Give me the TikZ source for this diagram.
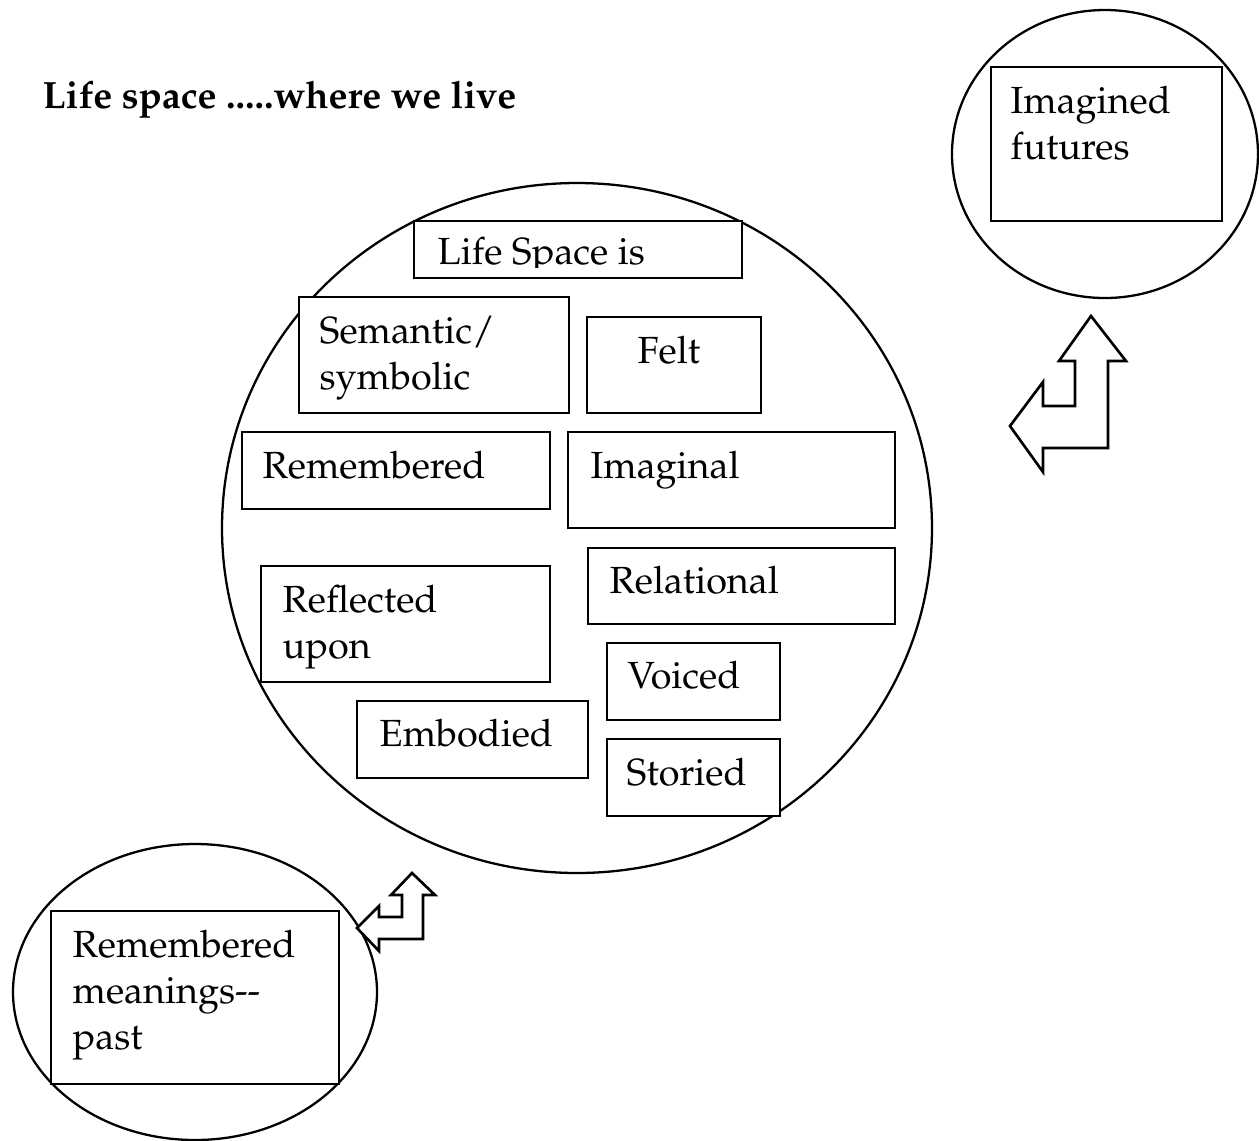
\documentclass[tikz,border=0pt]{standalone}
\usepackage[T1]{fontenc}
\renewcommand{\rmdefault}{ppl}
\usepackage{tikz}
\usetikzlibrary{calc}

\tikzset{
  boxline/.style={line width=0.75pt, fill=white},
  ringline/.style={line width=0.65pt},
  boxtext/.style={anchor=base west, inner sep=0pt, font=\fontsize{10.75}{13.2}\selectfont},
  headtext/.style={anchor=base west, inner sep=0pt, font=\bfseries\fontsize{10.8}{13.2}\selectfont},
  turnarrow/.style={line width=0.75pt, fill=white, line join=miter},
}

% box: name, left, top, right, bottom, text x, text y, text
\newcommand{\lsbox}[8]{%
  \draw[boxline] (#2,#3) rectangle (#4,#5);
  \node[boxtext] (#1) at (#6,#7) {\parbox[t]{6cm}{#8}};
}

\begin{document}
\begin{tikzpicture}[x=0.01cm, y=-0.01cm]
        \useasboundingbox (0,0) rectangle (1259,1141);

        \node[headtext] (title) at (42,108) {Life space .....where we live};

        % the three rings
        \coordinate (now) at (577,528);
        \coordinate (past) at (195,992);
        \coordinate (future) at (1105,154);
        \draw[ringline] (now) ellipse [x radius=355, y radius=345];
        \draw[ringline] (past) ellipse [x radius=182, y radius=148];
        \draw[ringline] (future) ellipse [x radius=153, y radius=144];

        % Life Space is -- text cut off at the foot of the box
        \draw[boxline] (414,221) rectangle (742,278);
        \begin{scope}
            \clip (414,221) rectangle (742,267);
            \node[boxtext] (lifespace) at (437,264) {Life Space is};
        \end{scope}

        \lsbox{semantic}{299}{297}{569}{413}{319}{343}{Semantic/\\symbolic}
        \lsbox{felt}{587}{317}{761}{413}{637}{363}{Felt}
        \lsbox{remembered}{242}{432}{550}{509}{262}{478}{Remembered}
        \lsbox{imaginal}{568}{432}{895}{528}{590}{478}{Imaginal}
        \lsbox{relational}{588}{548}{895}{624}{609}{593}{Relational}
        \lsbox{reflected}{261}{566}{550}{682}{282}{612}{Reflected\\upon}
        \lsbox{voiced}{607}{643}{780}{720}{627}{688}{Voiced}
        \lsbox{embodied}{357}{701}{588}{778}{379}{746}{Embodied}
        \lsbox{storied}{607}{739}{780}{816}{626}{785}{Storied}

        \lsbox{futures}{991}{67}{1222}{221}{1010}{113}{Imagined\\futures}
        \lsbox{meanings}{51}{911}{339}{1084}{72}{957}{Remembered\\meanings{-}{-}\\past}

        % bent two-way arrows
        \draw[turnarrow] (1091,316) -- (1126,361) -- (1108,361) -- (1108,448) -- (1043,448)
            -- (1043,472) -- (1010,426) -- (1043,382) -- (1043,406) -- (1075,406)
            -- (1075,361) -- (1059,361) -- cycle;
        \draw[turnarrow] (412,873) -- (435,895) -- (423,895) -- (423,939) -- (379,939)
            -- (379,951) -- (357,928) -- (379,906) -- (379,917) -- (402,917)
            -- (402,895) -- (391,895) -- cycle;
\end{tikzpicture}
\end{document}
